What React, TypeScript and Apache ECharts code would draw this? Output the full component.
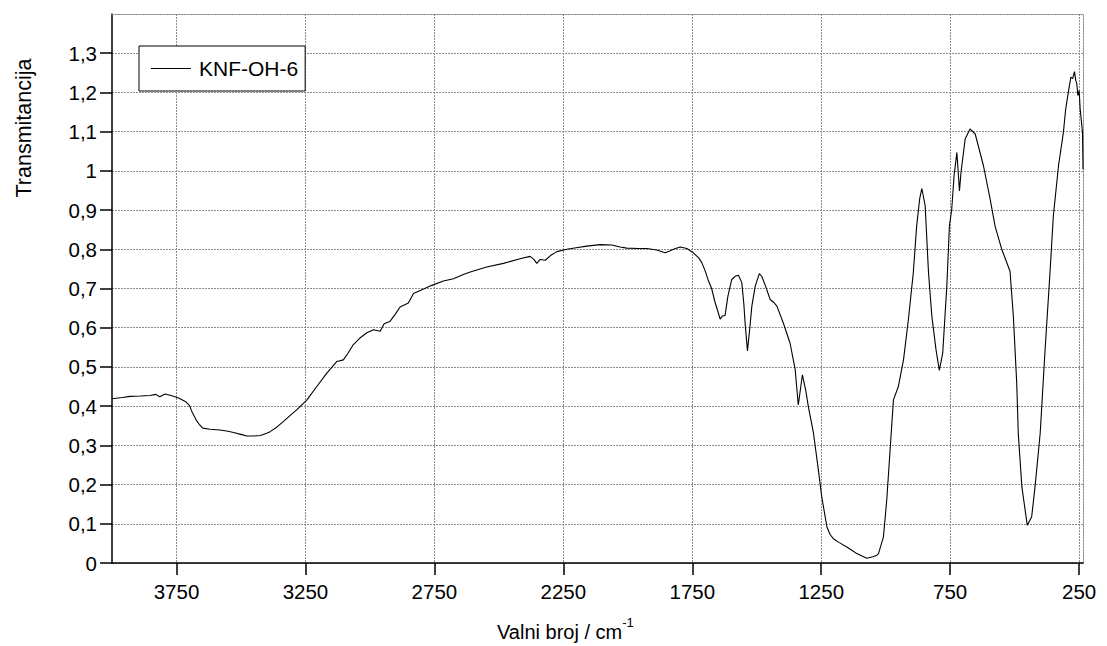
import React, { useEffect, useRef } from 'react';
import * as echarts from 'echarts';

const seriesName = 'KNF-OH-6';
const xAxisTitle = 'Valni broj / cm';
const xAxisTitleSup = '-1';
const yAxisTitle = 'Transmitancija';

const xTickValues = [3750, 3250, 2750, 2250, 1750, 1250, 750, 250];
const yTickValues = [0, 0.1, 0.2, 0.3, 0.4, 0.5, 0.6, 0.7, 0.8, 0.9, 1.0, 1.1, 1.2, 1.3];

const wavenumbers = [
  4000, 3960, 3929, 3890, 3852, 3830, 3815, 3794, 3775, 3762, 3740, 3716, 3700, 3690, 3674, 3660, 3648,
  3620, 3581, 3550, 3529, 3500, 3477, 3450, 3425, 3400, 3387, 3360, 3335, 3310, 3283, 3244, 3206, 3167,
  3128, 3103, 3085, 3064, 3040, 3012, 2986, 2960, 2945, 2922, 2900, 2883, 2851, 2831, 2792, 2760, 2715,
  2676, 2640, 2611, 2547, 2482, 2418, 2379, 2365, 2353, 2340, 2320, 2300, 2275, 2236, 2200, 2159, 2107,
  2062, 2030, 2004, 1960, 1926, 1888, 1855, 1840, 1823, 1797, 1771, 1746, 1725, 1713, 1700, 1687, 1675,
  1661, 1650, 1642, 1633, 1623, 1612, 1603, 1597, 1584, 1571, 1558, 1550, 1545, 1536, 1526, 1519, 1506,
  1490, 1480, 1468, 1448, 1435, 1422, 1397, 1371, 1351, 1339, 1323, 1310, 1300, 1280, 1261, 1248, 1228,
  1215, 1203, 1180, 1151, 1130, 1112, 1090, 1073, 1050, 1034, 1028, 1009, 996, 983, 970, 951, 931, 912,
  893, 880, 868, 860, 847, 834, 821, 805, 792, 779, 763, 753, 744, 735, 724, 714, 708, 692, 673, 653, 621,
  595, 576, 550, 518, 505, 492, 486, 472, 451, 434, 421, 401, 382, 363, 350, 330, 311, 302, 292, 282, 275,
  268, 263, 259, 255, 250, 246, 237, 235,
];

const transmittance = [
  0.419, 0.422, 0.425, 0.426, 0.427, 0.43, 0.424, 0.431, 0.428, 0.425, 0.42, 0.412, 0.402, 0.386, 0.365, 0.352, 0.344,
  0.341, 0.339, 0.336, 0.333, 0.328, 0.324, 0.324, 0.325, 0.331, 0.335, 0.347, 0.361, 0.376, 0.391, 0.416, 0.45, 0.484,
  0.514, 0.518, 0.535, 0.557, 0.573, 0.587, 0.595, 0.591, 0.61, 0.616, 0.636, 0.653, 0.663, 0.687, 0.699, 0.708, 0.719,
  0.725, 0.735, 0.742, 0.755, 0.764, 0.776, 0.782, 0.775, 0.764, 0.774, 0.772, 0.784, 0.794, 0.8, 0.804, 0.808, 0.812,
  0.811, 0.806, 0.803, 0.802, 0.802, 0.798, 0.791, 0.795, 0.8, 0.806, 0.802, 0.791, 0.778, 0.766, 0.745, 0.719, 0.7,
  0.663, 0.64, 0.622, 0.63, 0.631, 0.68, 0.706, 0.723, 0.731, 0.734, 0.715, 0.66, 0.61, 0.541, 0.605, 0.655, 0.706,
  0.738, 0.73, 0.71, 0.672, 0.665, 0.655, 0.612, 0.561, 0.493, 0.403, 0.48, 0.44, 0.399, 0.331, 0.237, 0.169, 0.092,
  0.072, 0.062, 0.052, 0.041, 0.032, 0.024, 0.017, 0.012, 0.016, 0.02, 0.024, 0.066, 0.16, 0.288, 0.416, 0.45, 0.518, 0.621,
  0.74, 0.859, 0.93, 0.955, 0.911, 0.74, 0.629, 0.544, 0.491, 0.535, 0.706, 0.859, 0.902, 0.987, 1.047, 0.949, 0.996, 1.081, 1.107, 1.094, 1.013,
  0.928, 0.859, 0.8, 0.744, 0.629, 0.459, 0.331, 0.194, 0.096, 0.118, 0.194, 0.331, 0.544, 0.74, 0.885, 1.013, 1.098, 1.158, 1.2, 1.239, 1.235,
  1.253, 1.23, 1.222, 1.192, 1.205, 1.158, 1.098, 1.004,
];

const FONT = 'Arial, "Liberation Sans", sans-serif';
const GRID_COLOR = '#8c8c8c';

export default function App() {
  const ref = useRef<HTMLDivElement>(null);

  useEffect(() => {
    document.body.style.margin = '0';
    const chart = echarts.init(ref.current!, null, { renderer: 'svg' });
    const data = wavenumbers.map((w, i) => [w, transmittance[i]]);
    const fmtY = (v: number) => String(+v.toFixed(1)).replace('.', ',');
    const fmtX = (v: number) => String(Math.round(v));

    chart.setOption({
      animation: false,
      backgroundColor: '#fff',
      grid: { left: 112, right: 24, top: 14, bottom: 83, containLabel: false },
      legend: {
        show: true,
        left: 139,
        top: 46,
        orient: 'horizontal',
        icon: 'rect',
        itemWidth: 40,
        itemHeight: 1,
        padding: [12, 7, 12, 12],
        borderColor: '#000',
        borderWidth: 1,
        borderRadius: 0,
        backgroundColor: '#fff',
        textStyle: { fontSize: 21, fontFamily: FONT, color: '#000', padding: [0, 0, 0, 3] },
        data: [seriesName],
      },
      xAxis: [
        {
          type: 'value',
          inverse: true,
          min: 235,
          max: 4000,
          axisLine: { show: true, onZero: false, lineStyle: { color: '#000', width: 1.5 } },
          axisTick: { show: true, customValues: xTickValues, length: 12, lineStyle: { color: '#000', width: 1.5 } },
          axisLabel: { customValues: xTickValues, margin: 18, fontSize: 20.5, fontFamily: FONT, color: '#000', formatter: fmtX },
          splitLine: { show: true, lineStyle: { color: GRID_COLOR, width: 1, type: [2, 1] } },
        },
        {
          type: 'value',
          position: 'top',
          inverse: true,
          min: 235,
          max: 4000,
          axisLine: { show: true, onZero: false, lineStyle: { color: GRID_COLOR, width: 1, type: [2, 1] } },
          axisTick: { show: false },
          axisLabel: { show: false },
          splitLine: { show: false },
        },
      ],
      yAxis: [
        {
          type: 'value',
          min: 0,
          max: 1.4,
          axisLine: { show: true, onZero: false, lineStyle: { color: '#000', width: 1.5 } },
          axisTick: { show: true, customValues: yTickValues, length: 12, lineStyle: { color: '#000', width: 1.5 } },
          axisLabel: { customValues: yTickValues, margin: 15, fontSize: 20.5, fontFamily: FONT, color: '#000', formatter: fmtY },
          splitLine: { show: true, lineStyle: { color: GRID_COLOR, width: 1, type: [2, 1] } },
        },
        {
          type: 'value',
          position: 'right',
          min: 0,
          max: 1.4,
          axisLine: { show: true, onZero: false, lineStyle: { color: GRID_COLOR, width: 1, type: [2, 1] } },
          axisTick: { show: false },
          axisLabel: { show: false },
          splitLine: { show: false },
        },
      ],
      series: [
        {
          name: seriesName,
          type: 'line',
          data,
          xAxisIndex: 0,
          yAxisIndex: 0,
          symbol: 'none',
          showSymbol: false,
          smooth: false,
          color: '#000',
          itemStyle: { color: '#000' },
          lineStyle: { color: '#000', width: 1.1 },
        },
      ],
      graphic: [
        {
          type: 'text',
          x: 24,
          y: 128,
          rotation: Math.PI / 2,
          style: {
            text: yAxisTitle,
            fontSize: 21.5,
            fontFamily: FONT,
            fill: '#000',
            textAlign: 'center',
            textVerticalAlign: 'middle',
          },
        },
        {
          type: 'text',
          left: 497,
          top: 616,
          style: {
            text: `{a|${xAxisTitle}}{b|${xAxisTitleSup}}`,
            fill: '#000',
            rich: {
              a: { fontSize: 20, fontFamily: FONT, fill: '#000', verticalAlign: 'bottom', lineHeight: 26 },
              b: { fontSize: 13, fontFamily: FONT, fill: '#000', verticalAlign: 'top', lineHeight: 26 },
            },
          },
        },
      ],
    });

    return () => chart.dispose();
  }, []);

  return <div ref={ref} style={{ width: 1107, height: 646 }} />;
}
